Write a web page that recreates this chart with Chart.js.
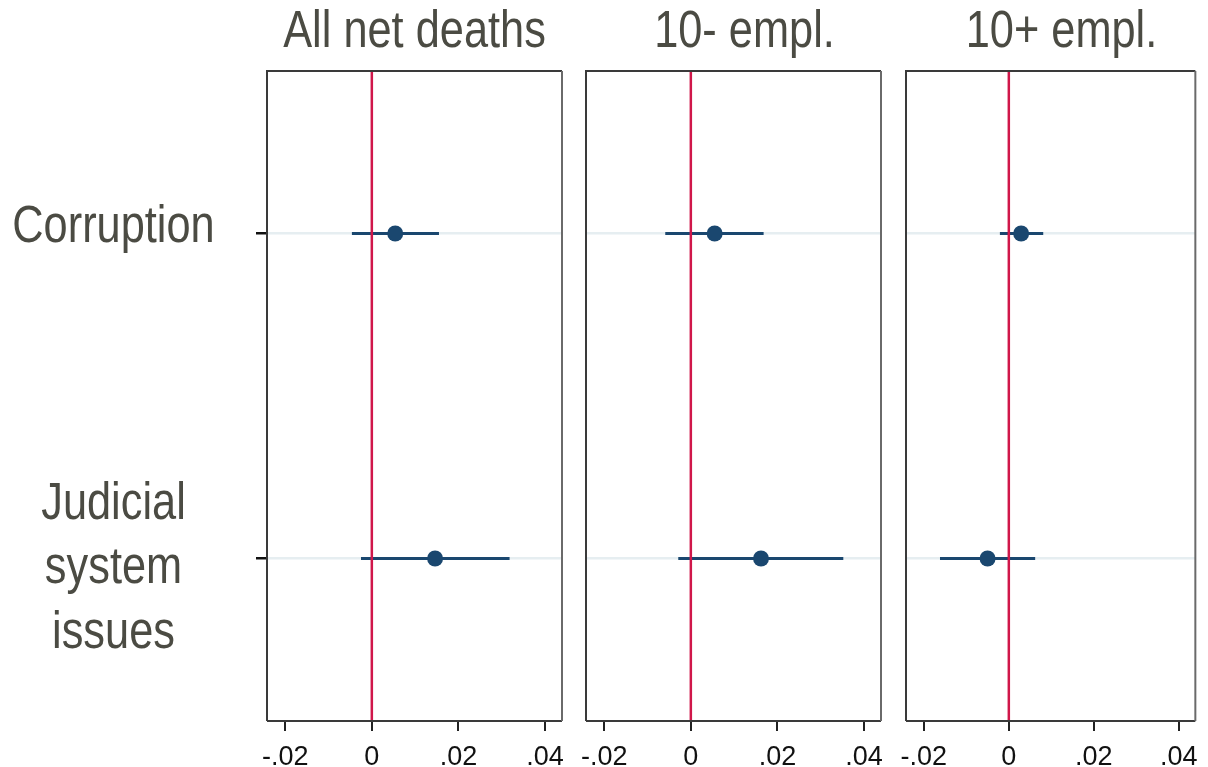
<!DOCTYPE html>
<html>
<head>
<meta charset="utf-8">
<script src="https://cdn.jsdelivr.net/npm/chart.js@4.4.1/dist/chart.umd.min.js"></script>
<style>
  html, body { margin: 0; padding: 0; background: #fff; }
  #wrap { position: relative; width: 1208px; height: 767px; }
  #wrap canvas { position: absolute; left: 0; top: 0; }
</style>
</head>
<body>
<div id="wrap">
  <canvas id="panel0" width="1208" height="767"></canvas>
  <canvas id="panel1" width="1208" height="767"></canvas>
  <canvas id="panel2" width="1208" height="767"></canvas>
</div>
<script>
const panelTitles = ['All net deaths', '10- empl.', '10+ empl.'];
const categories = ['Corruption', ['Judicial', 'system', 'issues']];
// point estimates and 95% bounds, one row per panel, one entry per category
const estimates = [
  [0.0054, 0.0146],
  [0.0055, 0.0162],
  [0.0029, -0.0050],
];
const lowerBounds = [
  [-0.0046, -0.0025],
  [-0.0059, -0.0029],
  [-0.0021, -0.0162],
];
const upperBounds = [
  [0.0155, 0.0318],
  [0.0168, 0.0352],
  [0.0081, 0.0062],
];
const xTicks = [-0.02, 0, 0.02, 0.04];
const xMin = -0.0242;
const xMax = 0.0439;

const CANVAS_W = 1208;
const CANVAS_H = 767;
const panelLeft = [267, 586, 906];
const panelRight = [562, 881, 1201];
const titleCenter = [414.5, 744.5, 1061.5];
const PLOT_TOP = 71;
const PLOT_BOTTOM = 721;
const LABEL_CENTER_X = 113.5;
const LABEL_LINE_GAP = 64.5;

const NAVY = '#1a476f';
const ZERO_RED = '#d0174a';
const TEXT_GREY = '#4b4b43';
const BIG_FONT = '51px "Liberation Sans", Arial, sans-serif';
const NARROW_SCALE = 0.85;

function formatTick(value) {
  if (Math.abs(value) < 1e-9) return '0';
  return value.toFixed(2).replace('0.', '.');
}

// condensed text: Arial Narrow is not installed, so squeeze Liberation Sans
function narrowText(ctx, text, x, y) {
  ctx.save();
  ctx.translate(x, y);
  ctx.scale(NARROW_SCALE, 1);
  ctx.fillText(text, 0, 0);
  ctx.restore();
}

const panelFrame = {
  id: 'panelFrame',
  afterDraw(chart, _args, opts) {
    const { ctx, chartArea } = chart;
    const { left, right, top, bottom } = chartArea;
    ctx.save();
    ctx.lineWidth = 2;
    ctx.strokeStyle = '#3a3a3a';
    ctx.beginPath();
    ctx.moveTo(left, bottom);
    ctx.lineTo(left, top);
    ctx.lineTo(right, top);
    ctx.moveTo(left, bottom);
    ctx.lineTo(right, bottom);
    ctx.stroke();
    ctx.strokeStyle = '#6a6a6a';
    ctx.beginPath();
    ctx.moveTo(right, top);
    ctx.lineTo(right, bottom);
    ctx.stroke();

    ctx.fillStyle = TEXT_GREY;
    ctx.font = BIG_FONT;
    ctx.textAlign = 'center';
    ctx.textBaseline = 'alphabetic';
    narrowText(ctx, opts.title, opts.titleX, 47);

    if (opts.showLabels) {
      const yScale = chart.scales.y;
      categories.forEach((label, i) => {
        const lines = Array.isArray(label) ? label : [label];
        const n = lines.length;
        const tickY = yScale.getPixelForValue(i + 1);
        const firstBaseline = tickY + 8.5 - (n - 1) * (LABEL_LINE_GAP / 2) + (n - 1) * 8;
        lines.forEach((line, j) => {
          narrowText(ctx, line, LABEL_CENTER_X, firstBaseline + j * LABEL_LINE_GAP);
        });
      });
    }
    ctx.restore();
  },
};

function buildPanel(index) {
  const isFirst = index === 0;
  const pointData = estimates[index].map((value, i) => ({ x: value, y: i + 1 }));
  const ciSets = categories.map((_cat, i) => ({
    type: 'line',
    data: [
      { x: lowerBounds[index][i], y: i + 1 },
      { x: upperBounds[index][i], y: i + 1 },
    ],
    borderColor: NAVY,
    borderWidth: 3,
    pointRadius: 0,
    showLine: true,
  }));

  const ctx = document.getElementById(`panel${index}`).getContext('2d');
  return new Chart(ctx, {
    type: 'scatter',
    data: {
      datasets: [
        {
          data: pointData,
          backgroundColor: NAVY,
          borderColor: NAVY,
          pointRadius: 8,
          pointBorderWidth: 0,
        },
        {
          type: 'line',
          data: [{ x: 0, y: 0.5 }, { x: 0, y: 2.5 }],
          borderColor: ZERO_RED,
          borderWidth: 2.5,
          pointRadius: 0,
          showLine: true,
        },
        ...ciSets,
      ],
    },
    plugins: [panelFrame],
    options: {
      responsive: false,
      animation: false,
      events: [],
      layout: {
        padding: { left: 0, right: CANVAS_W - panelRight[index], top: PLOT_TOP, bottom: 0 },
      },
      plugins: {
        legend: { display: false },
        tooltip: { enabled: false },
        panelFrame: { title: panelTitles[index], titleX: titleCenter[index], showLabels: isFirst },
      },
      scales: {
        x: {
          type: 'linear',
          min: xMin,
          max: xMax,
          afterBuildTicks: (scale) => {
            scale.ticks = xTicks.map((value) => ({ value }));
          },
          afterFit: (scale) => {
            scale.height = CANVAS_H - PLOT_BOTTOM;
          },
          border: { display: false },
          grid: {
            drawOnChartArea: false,
            drawTicks: true,
            tickLength: 10,
            tickColor: '#222',
            lineWidth: 2,
          },
          ticks: {
            padding: 10,
            color: '#111',
            font: { family: '"Liberation Sans", Arial, sans-serif', size: 27 },
            maxRotation: 0,
            autoSkip: false,
            callback: (value) => formatTick(value),
          },
        },
        y: {
          type: 'linear',
          reverse: true,
          min: 0.5,
          max: 2.5,
          afterBuildTicks: (scale) => {
            scale.ticks = categories.map((_c, i) => ({ value: i + 1 }));
          },
          afterFit: (scale) => {
            scale.width = panelLeft[index];
          },
          border: { display: false },
          grid: {
            color: '#e6eef1',
            lineWidth: 2.5,
            drawTicks: isFirst,
            tickLength: 11,
            tickColor: '#111',
          },
          ticks: { display: false },
        },
      },
    },
  });
}

panelTitles.forEach((_title, index) => buildPanel(index));
</script>
</body>
</html>
